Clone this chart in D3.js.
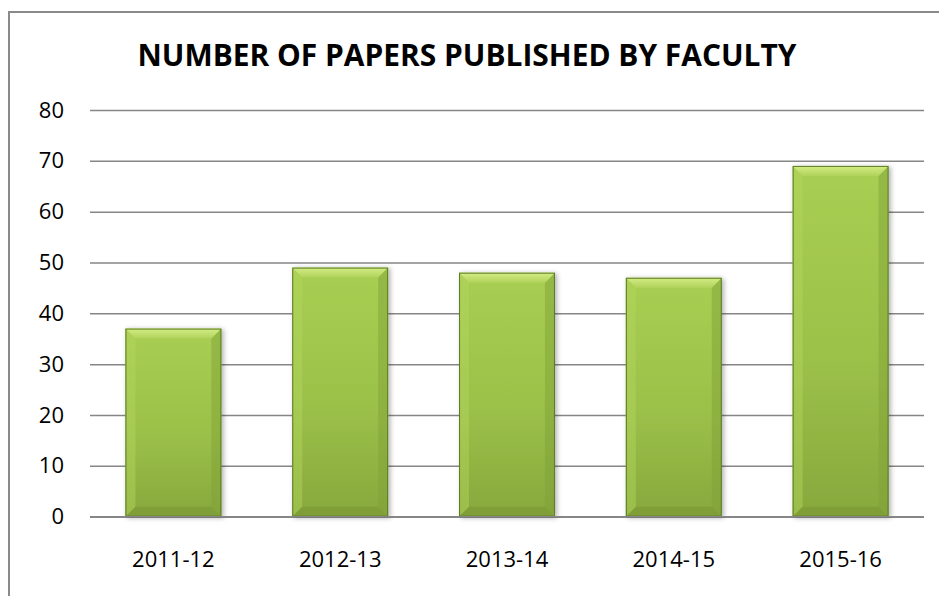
<!DOCTYPE html>
<html>
<head>
<meta charset="utf-8">
<script src="https://cdn.jsdelivr.net/npm/d3@7"></script>
<style>
  html, body { margin: 0; padding: 0; background: #fff; }
  svg { display: block; }
</style>
</head>
<body>
<svg id="chart" width="939" height="596"></svg>
<script>
const titleText = "NUMBER OF PAPERS PUBLISHED BY FACULTY";
const categories = ["2011-12", "2012-13", "2013-14", "2014-15", "2015-16"];
const values = [37, 49, 48, 47, 69];
const yTicks = [0, 10, 20, 30, 40, 50, 60, 70, 80];

const svg = d3.select("#chart");
const W = 939, H = 596;
const plot = { left: 90, right: 924, top: 110, bottom: 516.7 };

svg.append("rect").attr("width", W).attr("height", H).attr("fill", "#fff");

// border (cropped at right and bottom)
svg.append("rect")
  .attr("x", 9).attr("y", 12).attr("width", 960).attr("height", 620)
  .attr("fill", "none").attr("stroke", "#8a8a8a").attr("stroke-width", 2);

const defs = svg.append("defs");
const gBody = defs.append("linearGradient").attr("id", "body").attr("x1", 0).attr("y1", 0).attr("x2", 0).attr("y2", 1);
gBody.append("stop").attr("offset", "0%").attr("stop-color", "#a8ce52");
gBody.append("stop").attr("offset", "55%").attr("stop-color", "#9cc149");
gBody.append("stop").attr("offset", "100%").attr("stop-color", "#87a83d");
const gTop = defs.append("linearGradient").attr("id", "topbev").attr("x1", 0).attr("y1", 0).attr("x2", 0).attr("y2", 1);
gTop.append("stop").attr("offset", "0%").attr("stop-color", "#d4ec84");
gTop.append("stop").attr("offset", "100%").attr("stop-color", "#b0d35c");
const shadow = defs.append("filter").attr("id", "shadow").attr("x", "-20%").attr("y", "-10%").attr("width", "140%").attr("height", "120%");
shadow.append("feDropShadow").attr("dx", 2).attr("dy", 1).attr("stdDeviation", 2.5)
  .attr("flood-color", "#000").attr("flood-opacity", 0.3);

const x = d3.scaleBand().domain(categories).range([plot.left, plot.right])
  .paddingInner(0.425).paddingOuter(0.2125);
const y = d3.scaleLinear().domain([0, 80]).range([plot.bottom, plot.top]);

// title
svg.append("text")
  .attr("x", 467).attr("y", 66)
  .attr("text-anchor", "middle")
  .attr("font-family", "'Open Sans', sans-serif")
  .attr("font-weight", "bold")
  .attr("font-size", 30)
  .attr("textLength", 659).attr("lengthAdjust", "spacingAndGlyphs")
  .attr("fill", "#000")
  .text(titleText);

// gridlines
const grid = svg.append("g").attr("transform", `translate(${plot.left},0)`)
  .call(d3.axisLeft(y).tickValues(yTicks).tickSize(-(plot.right - plot.left)).tickFormat(""));
grid.select(".domain").remove();
grid.selectAll(".tick line").attr("stroke", "#868686").attr("stroke-width", 1.5);

// y labels
const yAxis = svg.append("g").attr("transform", "translate(64,0)")
  .call(d3.axisLeft(y).tickValues(yTicks).tickSize(0).tickPadding(0));
yAxis.select(".domain").remove();
yAxis.selectAll("text").attr("font-family", "'Open Sans', sans-serif").attr("font-size", 22).attr("fill", "#000");

// bars
const b = 10;
const bars = svg.append("g").selectAll("g").data(categories).join("g").attr("filter", "url(#shadow)");
bars.each(function(c, i) {
  const g = d3.select(this);
  const x0 = x(c), w = x.bandwidth(), x1 = x0 + w;
  const y0 = y(values[i]), y1 = y(0);
  g.append("rect").attr("x", x0).attr("y", y0).attr("width", w).attr("height", y1 - y0).attr("fill", "url(#body)");
  g.append("polygon").attr("points", [[x0, y0], [x0 + b, y0 + b], [x0 + b, y1 - b], [x0, y1]].join(" "))
    .attr("fill", "#b3d75e").attr("opacity", 0.45);
  g.append("polygon").attr("points", [[x1, y0], [x1 - b, y0 + b], [x1 - b, y1 - b], [x1, y1]].join(" "))
    .attr("fill", "#7f9f37").attr("opacity", 0.45);
  g.append("polygon").attr("points", [[x0, y1], [x0 + b, y1 - b], [x1 - b, y1 - b], [x1, y1]].join(" "))
    .attr("fill", "#7a9834").attr("opacity", 0.6);
  g.append("polygon").attr("points", [[x0, y0], [x1, y0], [x1 - b, y0 + b], [x0 + b, y0 + b]].join(" "))
    .attr("fill", "url(#topbev)");
  g.append("rect").attr("x", x0 + 0.5).attr("y", y0 + 0.5).attr("width", w - 1).attr("height", y1 - y0 - 1)
    .attr("fill", "none").attr("stroke", "#5d7a28").attr("stroke-width", 1);
});

// baseline
svg.append("line").attr("x1", plot.left).attr("x2", plot.right).attr("y1", y(0)).attr("y2", y(0))
  .attr("stroke", "#868686").attr("stroke-width", 1.5);

// x labels
const xAxis = svg.append("g").attr("transform", `translate(0,${plot.bottom})`)
  .call(d3.axisBottom(x).tickSize(0).tickPadding(35));
xAxis.select(".domain").remove();
xAxis.selectAll("text").attr("font-family", "'Open Sans', sans-serif").attr("font-size", 22).attr("fill", "#000");
</script>
</body>
</html>
